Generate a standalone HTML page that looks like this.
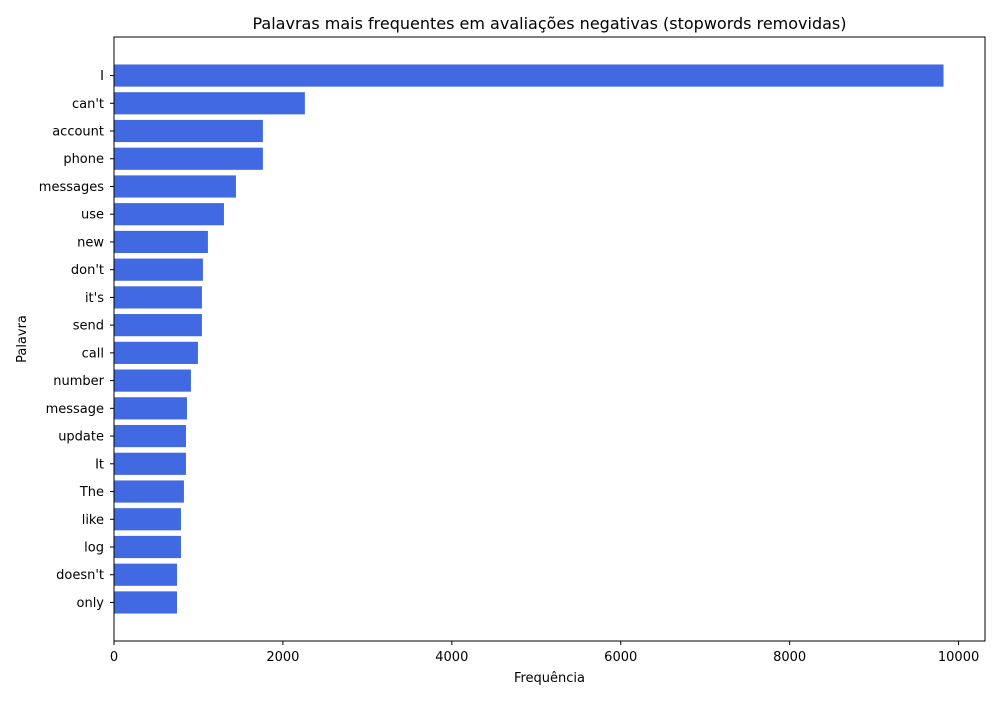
<!DOCTYPE html>
<html><head><meta charset="utf-8"><style>
body{margin:0;background:#fff;font-family:"Liberation Sans","DejaVu Sans",sans-serif;}
</style></head><body>
<svg id="chart" width="1000" height="700" xmlns="http://www.w3.org/2000/svg" font-family="DejaVu Sans, Liberation Sans, sans-serif">
<rect width="1000" height="700" fill="#fff"/>
<text x="549.5" y="29" text-anchor="middle" font-size="16">Palavras mais frequentes em avaliações negativas (stopwords removidas)</text>
<text x="549.5" y="682" text-anchor="middle" font-size="13">Frequência</text>
<text transform="translate(26,339) rotate(-90)" text-anchor="middle" font-size="13">Palavra</text>
<g id="bars"></g><g id="axes"></g>
<rect x="114" y="37" width="871" height="604" fill="none" stroke="#000" stroke-width="1"/>
</svg>
<script>
const categories=["I","can't","account","phone","messages","use","new","don't","it's","send","call","number","message","update","It","The","like","log","doesn't","only"];
const values=[9822,2260,1763,1763,1444,1302,1112,1053,1041,1041,994,911,864,852,852,828,793,793,746,746];
const xTicks=[0,2000,4000,6000,8000,10000];
const L=114,R=985,T=37,B=641;
const xMax=Math.max(...values)*1.05;
const xs=v=>L+v/xMax*(R-L);
const n=categories.length;
const unit=(B-T)/((n-1)+0.8+0.1*(n-0.2));
const ys=i=>T+unit*(0.4+0.05*(n-0.2))+i*unit;
const NS="http://www.w3.org/2000/svg";
const bars=document.getElementById('bars'),axes=document.getElementById('axes');
categories.forEach((c,i)=>{
  const r=document.createElementNS(NS,'rect');
  
  
  r.setAttribute('x',xs(0));r.setAttribute('y',ys(i)-0.4*unit);
  r.setAttribute('width',xs(values[i])-xs(0));r.setAttribute('height',0.8*unit);
  r.setAttribute('fill','#4169e1');bars.appendChild(r);
  const t=document.createElementNS(NS,'line');
  
  
  t.setAttribute('x1',L-4);t.setAttribute('x2',L);t.setAttribute('y1',ys(i));t.setAttribute('y2',ys(i));t.setAttribute('stroke','#000');axes.appendChild(t);
  const l=document.createElementNS(NS,'text');
  
  
  l.setAttribute('x',L-10);l.setAttribute('y',ys(i)+4.5);l.setAttribute('text-anchor','end');l.setAttribute('font-size','13');l.textContent=c;axes.appendChild(l);
});
xTicks.forEach(v=>{
  const t=document.createElementNS(NS,'line');
  
  
  t.setAttribute('x1',xs(v));t.setAttribute('x2',xs(v));t.setAttribute('y1',B);t.setAttribute('y2',B+4);t.setAttribute('stroke','#000');axes.appendChild(t);
  const l=document.createElementNS(NS,'text');
  
  
  l.setAttribute('x',xs(v));l.setAttribute('y',B+20);l.setAttribute('text-anchor','middle');l.setAttribute('font-size','13');l.textContent=v;axes.appendChild(l);
});
</script>
</body></html>
